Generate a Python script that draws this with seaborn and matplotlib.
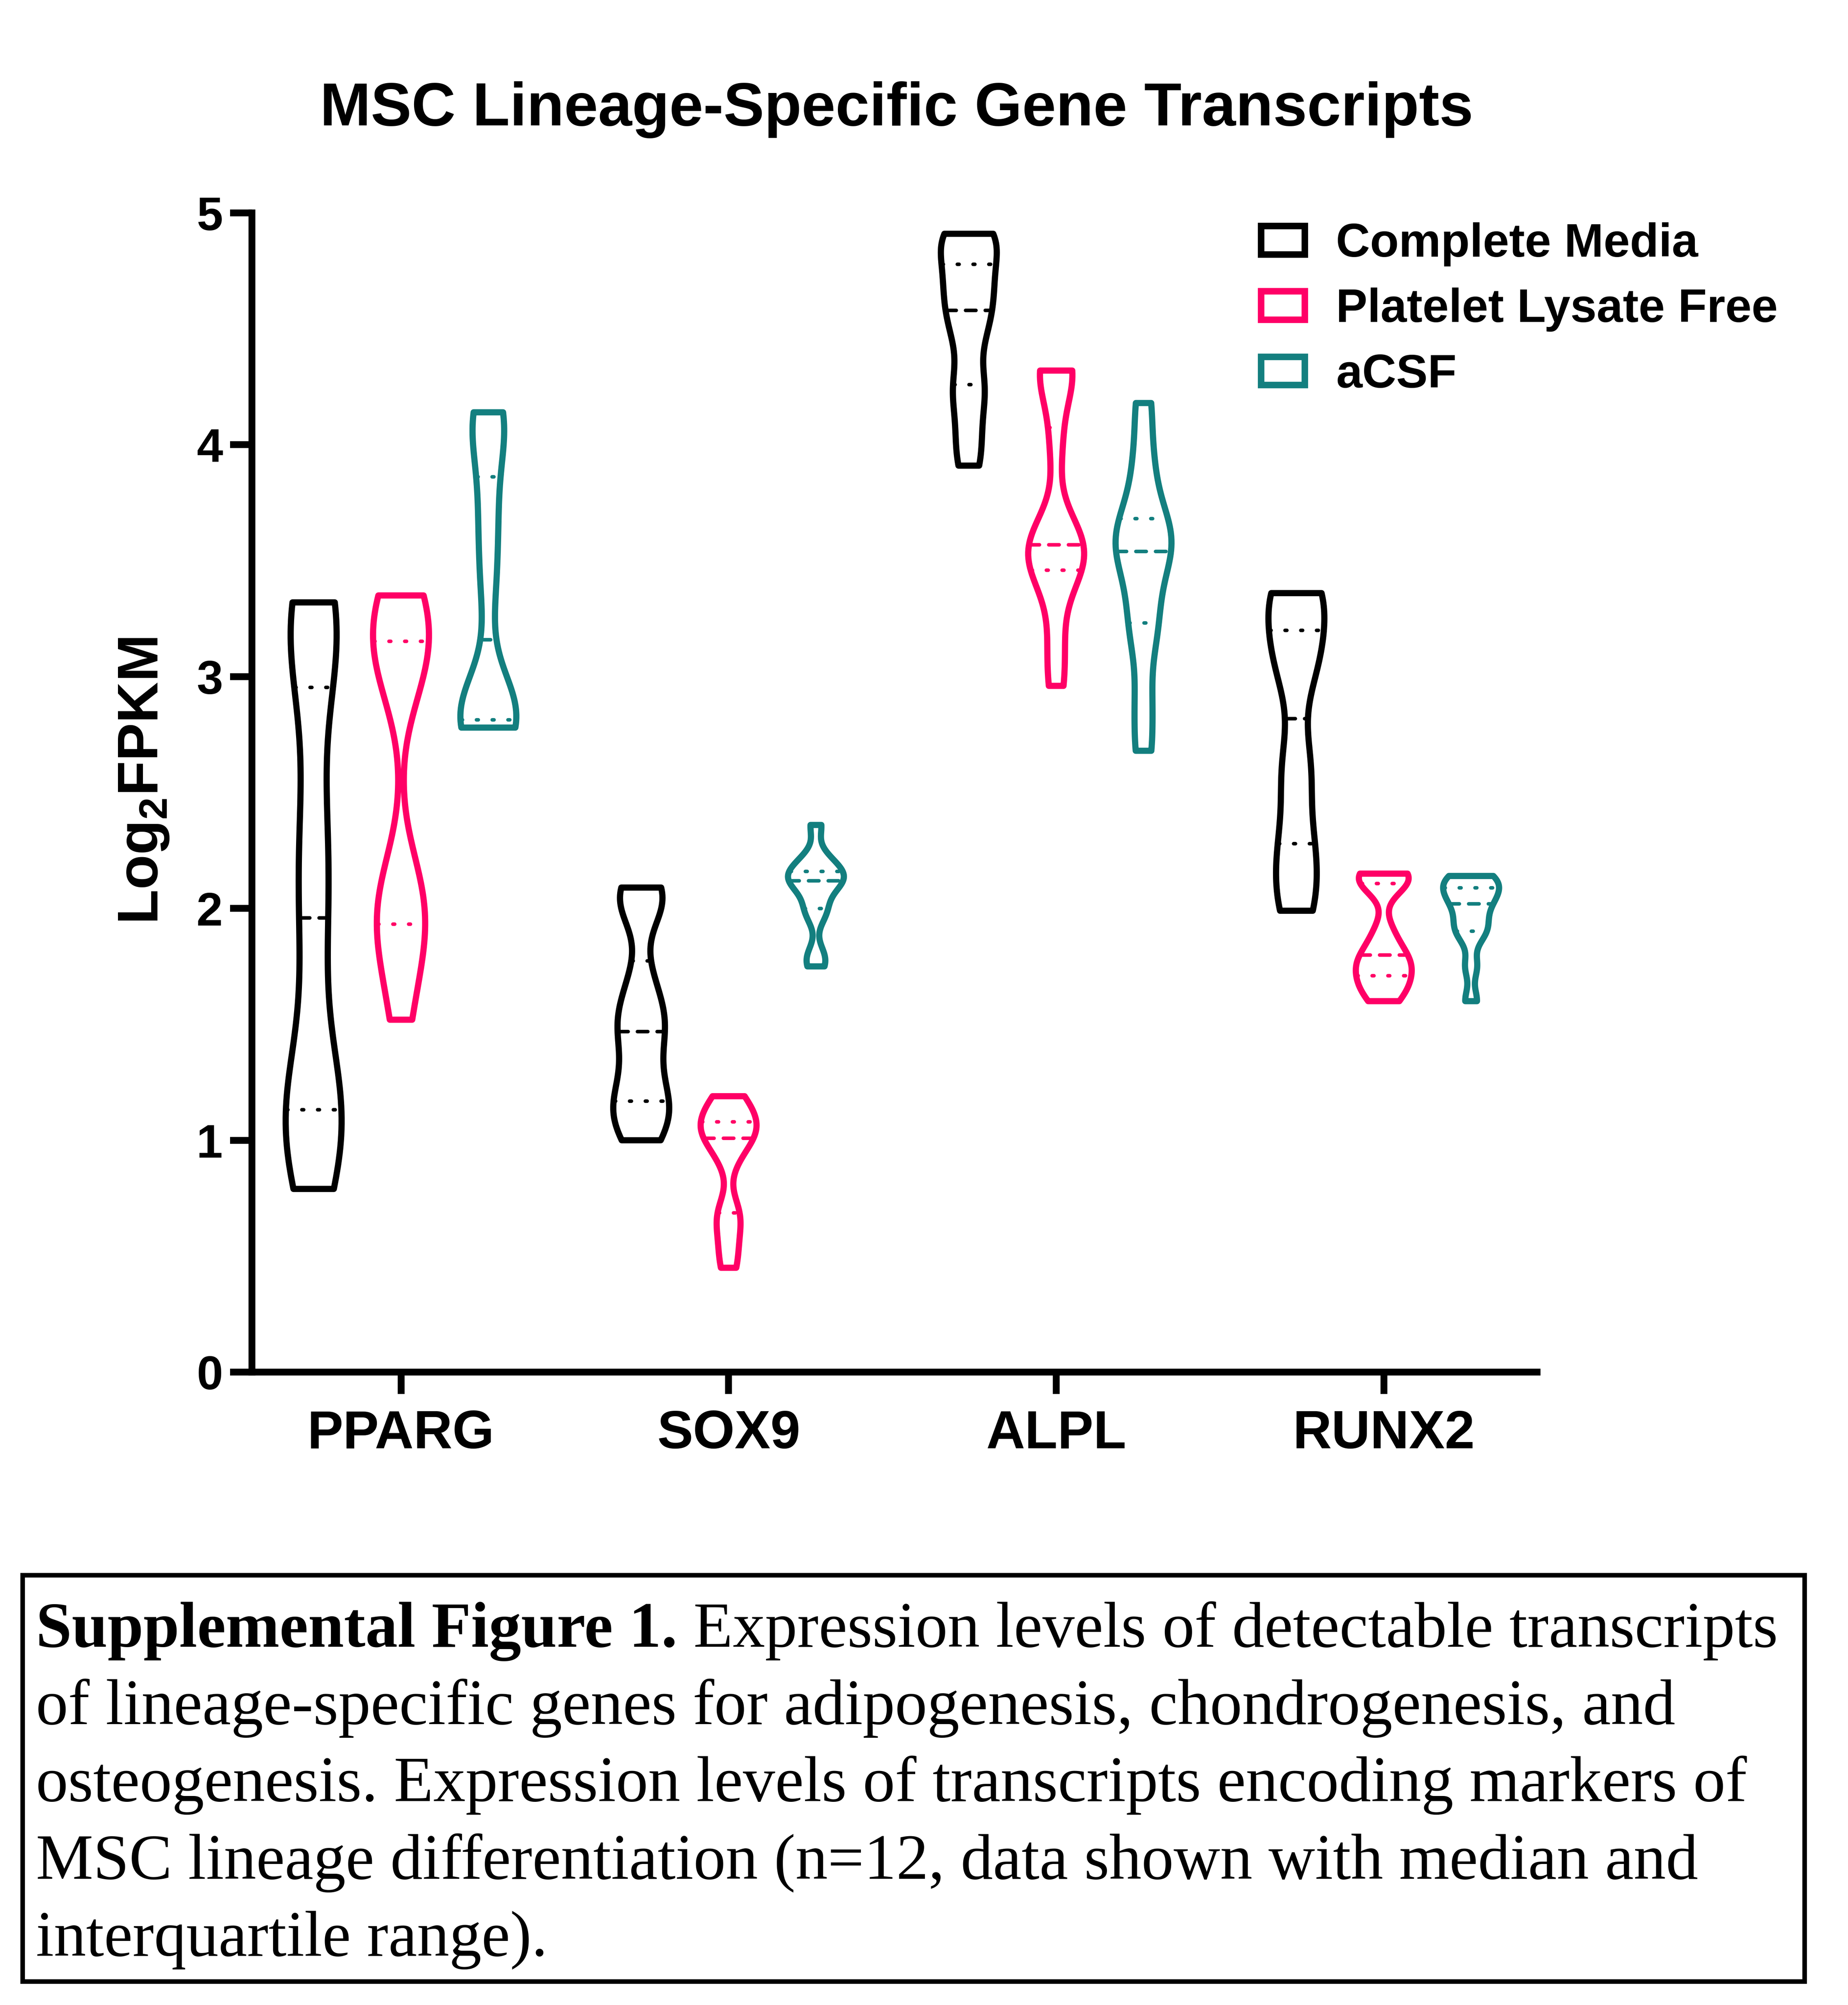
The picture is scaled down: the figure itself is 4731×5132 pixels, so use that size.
import numpy as np
import pandas as pd
import seaborn as sns
import matplotlib
matplotlib.use('Agg')
import matplotlib.pyplot as plt
from matplotlib.patches import Patch, Rectangle

# values (n=12 per group, Log2 FPKM)
genes = ['PPARG', 'SOX9', 'ALPL', 'RUNX2']
conditions = ['Complete Media', 'Platelet Lysate Free', 'aCSF']
colors = ['#000000', '#FF0066', '#137F7F']

pparg_cm = [0.79, 0.98, 1.08, 1.15, 1.35, 1.80, 2.12, 2.40, 2.88, 3.18, 3.26, 3.32]
pparg_plf = [1.52, 1.75, 1.88, 1.95, 2.05, 2.15, 2.97, 3.05, 3.12, 3.25, 3.30, 3.35]
pparg_acsf = [2.78, 2.79, 2.80, 2.82, 2.85, 2.95, 3.37, 3.60, 3.80, 4.05, 4.10, 4.14]

sox9_cm = [1.00, 1.08, 1.14, 1.18, 1.30, 1.42, 1.52, 1.55, 1.70, 2.00, 2.05, 2.09]
sox9_plf = [0.45, 0.55, 0.65, 0.70, 0.92, 1.00, 1.02, 1.05, 1.07, 1.11, 1.15, 1.19]
sox9_acsf = [1.75, 1.80, 1.97, 2.01, 2.08, 2.11, 2.13, 2.14, 2.15, 2.19, 2.22, 2.36]

alpl_cm = [3.91, 4.05, 4.20, 4.28, 4.45, 4.55, 4.61, 4.70, 4.75, 4.87, 4.89, 4.91]
alpl_plf = [2.96, 3.15, 3.40, 3.48, 3.52, 3.55, 3.59, 3.62, 4.00, 4.30, 4.31, 4.32]
alpl_acsf = [2.68, 2.90, 3.15, 3.26, 3.40, 3.50, 3.58, 3.60, 3.65, 3.78, 3.95, 4.18]

runx2_cm = [1.99, 2.05, 2.22, 2.30, 2.55, 2.65, 2.99, 3.10, 3.15, 3.35, 3.35, 3.36]
runx2_plf = [1.60, 1.65, 1.68, 1.72, 1.76, 1.78, 1.82, 1.90, 2.10, 2.13, 2.14, 2.15]
runx2_acsf = [1.60, 1.75, 1.88, 1.91, 1.95, 2.00, 2.04, 2.06, 2.08, 2.12, 2.13, 2.14]

groups = {
    ('PPARG', 'Complete Media'): pparg_cm,
    ('PPARG', 'Platelet Lysate Free'): pparg_plf,
    ('PPARG', 'aCSF'): pparg_acsf,
    ('SOX9', 'Complete Media'): sox9_cm,
    ('SOX9', 'Platelet Lysate Free'): sox9_plf,
    ('SOX9', 'aCSF'): sox9_acsf,
    ('ALPL', 'Complete Media'): alpl_cm,
    ('ALPL', 'Platelet Lysate Free'): alpl_plf,
    ('ALPL', 'aCSF'): alpl_acsf,
    ('RUNX2', 'Complete Media'): runx2_cm,
    ('RUNX2', 'Platelet Lysate Free'): runx2_plf,
    ('RUNX2', 'aCSF'): runx2_acsf,
}

rows = []
for (gene, cond), vals in groups.items():
    for v in vals:
        rows.append({'gene': gene, 'condition': cond, 'value': v})
df = pd.DataFrame(rows)

caption_bold = 'Supplemental Figure 1.'
caption_lines = [
    ' Expression levels of detectable transcripts',
    'of lineage-specific genes for adipogenesis, chondrogenesis, and',
    'osteogenesis. Expression levels of transcripts encoding markers of',
    'MSC lineage differentiation (n=12, data shown with median and',
    'interquartile range).',
]

sns.set_style('ticks')
plt.rcParams['font.family'] = ['Liberation Sans', 'DejaVu Sans']
plt.rcParams['font.weight'] = 'bold'
plt.rcParams['mathtext.fontset'] = 'custom'
plt.rcParams['mathtext.rm'] = 'Liberation Sans:bold'
plt.rcParams['mathtext.bf'] = 'Liberation Sans:bold'
for k in ['text.color', 'axes.labelcolor', 'xtick.color', 'ytick.color', 'axes.edgecolor']:
    plt.rcParams[k] = 'black'

W, H = 4731, 5132
fig = plt.figure(figsize=(W / 300, H / 300), dpi=300)
# axes: x from 645 to 3935 px, y value 0 at 3512 px, 5 at 545 px
ax = fig.add_axes([645 / W, 1 - 3512 / H, (3935 - 645) / W, (3512 - 545) / H])

lw = 3.8
sns.violinplot(data=df, x='gene', y='value', hue='condition', order=genes,
               hue_order=conditions, palette=colors, fill=False, inner='quart',
               cut=0, density_norm='width', width=0.8, gap=0.36, bw_adjust=0.5,
               linewidth=lw, inner_kws={'linewidth': 2.2}, legend=False, ax=ax)

# median dashed, quartiles dotted
for i, line in enumerate(ax.lines):
    if i % 3 == 1:
        line.set_dashes((2.9, 2.6))
    else:
        line.set_dashes((0.5, 3.9))
    line.set_dash_capstyle('round')

ax.set_ylim(0, 5)
ax.set_xlim(-0.455, 3.468)
ax.set_yticks([0, 1, 2, 3, 4, 5])
sns.despine(ax=ax)
spine_w = 4.2
for s in ['left', 'bottom']:
    ax.spines[s].set_linewidth(spine_w)
ax.tick_params(axis='both', length=13.4, width=spine_w, color='black')
ax.tick_params(axis='y', labelsize=29, pad=4.6)
ax.tick_params(axis='x', labelsize=33, pad=9.5)
for lab in ax.get_xticklabels() + ax.get_yticklabels():
    lab.set_fontweight('bold')
ax.set_xlabel('')
ax.set_ylabel(r'Log$_\mathbf{2}$FPKM', fontsize=35, fontweight='bold')
ax.yaxis.set_label_coords((437 - 645) / (3935 - 645), 0.51)

handles = [Patch(facecolor='none', edgecolor=c, linewidth=4) for c in colors]
fig.legend(handles, conditions, loc='upper left', bbox_to_anchor=(3228 / W, 1 - 569 / H),
           frameon=False, handlelength=0.93, handleheight=0.55,
           handletextpad=0.66, labelspacing=0.45, borderpad=0, borderaxespad=0,
           prop={'weight': 'bold', 'size': 29})

fig.text(819 / W, 1 - 321 / H, 'MSC Lineage-Specific Gene Transcripts', ha='left',
         va='baseline', fontsize=37.5, fontweight='bold')

# caption box
fig.patches.append(Rectangle((58 / W, 1 - 5072 / H), (4620 - 58) / W, (5072 - 4032) / H,
                             transform=fig.transFigure, fill=False, edgecolor='black',
                             linewidth=2.8))
serif = ['Liberation Serif', 'DejaVu Serif']
x0 = 92 / W
fs_cap = 39.6
baselines = [4215, 4413, 4610, 4809, 5006]
tb = fig.text(x0, 1 - baselines[0] / H, caption_bold, family=serif, fontsize=fs_cap,
              fontweight='bold', va='baseline', ha='left')
fig.canvas.draw()
bb = tb.get_window_extent(renderer=fig.canvas.get_renderer())
fig.text(bb.x1 / W, 1 - baselines[0] / H, caption_lines[0], family=serif, fontsize=fs_cap,
         fontweight='normal', va='baseline', ha='left')
for yb, txt in zip(baselines[1:], caption_lines[1:]):
    fig.text(x0, 1 - yb / H, txt, family=serif, fontsize=fs_cap, fontweight='normal',
             va='baseline', ha='left')

fig.savefig('out.png', dpi=300, facecolor='white')
